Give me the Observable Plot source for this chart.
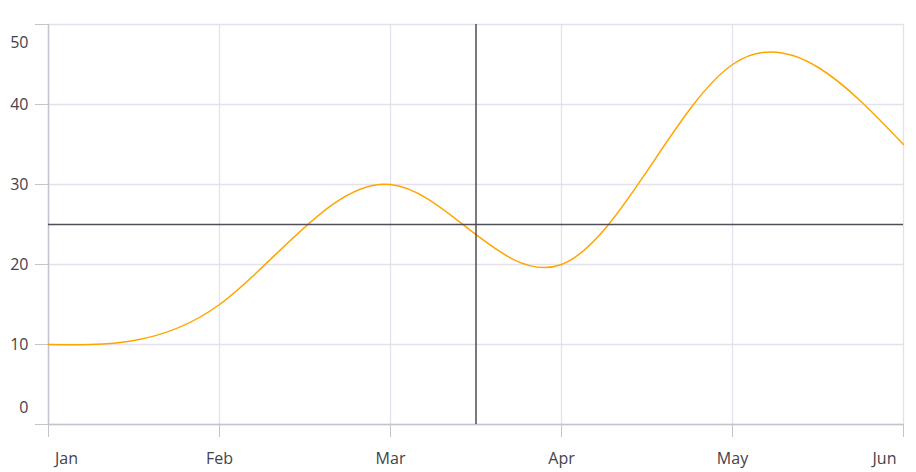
<!DOCTYPE html>
<html>
<head>
<meta charset="utf-8">
<script src="https://cdn.jsdelivr.net/npm/d3@7"></script>
<script src="https://cdn.jsdelivr.net/npm/@observablehq/plot@0.6"></script>
<style>
  html, body { margin: 0; padding: 0; background: #fff; }
  #chart { width: 916px; height: 472px; }
</style>
</head>
<body>
<div id="chart"></div>
<script>
const months = ["Jan", "Feb", "Mar", "Apr", "May", "Jun"];
const values = [10, 15, 30, 20, 45, 35];
const yTicks = [0, 10, 20, 30, 40, 50];
const crosshairX = [2.5];
const crosshairY = [25];

const data = months.map((m, i) => ({ i, month: m, value: values[i] }));
const monthIdx = months.map((m, i) => i);

const gridColor = "#e4e1ec";
const axisColor = "#c6c3ce";
const labelColor = "#44424a";
const font = "Open Sans, Noto Sans, sans-serif";
const fs = 16;

const midY = yTicks.filter((d, k) => k > 0 && k < yTicks.length - 1);
const midX = monthIdx.filter((d, k) => k > 0 && k < monthIdx.length - 1);

const chart = Plot.plot({
  width: 916,
  height: 472,
  marginLeft: 48,
  marginRight: 13,
  marginTop: 24,
  marginBottom: 48,
  style: { fontFamily: font, fontSize: fs + "px", background: "#fff" },
  x: { domain: [0, 5], axis: null },
  y: { domain: [0, 50], axis: null },
  marks: [
    Plot.ruleY(yTicks, { y: d => d, stroke: gridColor, strokeWidth: 1.3, strokeOpacity: 1 }),
    Plot.ruleX(monthIdx, { x: d => d, stroke: gridColor, strokeWidth: 1.3, strokeOpacity: 1 }),
    Plot.axisY(yTicks, { tickSize: 13, tickFormat: () => "", stroke: axisColor, strokeOpacity: 1, label: null }),
    Plot.axisX(monthIdx, { tickSize: 13, tickFormat: () => "", stroke: axisColor, strokeOpacity: 1, label: null }),
    Plot.ruleX([0], { stroke: axisColor, strokeWidth: 1.5, strokeOpacity: 1 }),
    Plot.ruleY([0], { stroke: axisColor, strokeWidth: 1.5, strokeOpacity: 1 }),
    // y labels
    Plot.text(midY, { x: 0, y: d => d, text: d => String(d), textAnchor: "end", dx: -20, fill: labelColor, fontSize: fs }),
    Plot.text([yTicks[0]], { x: 0, y: d => d, text: d => String(d), textAnchor: "end", dx: -20, dy: -17, fill: labelColor, fontSize: fs }),
    Plot.text([yTicks[yTicks.length - 1]], { x: 0, y: d => d, text: d => String(d), textAnchor: "end", dx: -20, dy: 18, fill: labelColor, fontSize: fs }),
    // x labels
    Plot.text(midX, { x: d => d, y: 0, text: d => months[d], dy: 34, fill: labelColor, fontSize: fs }),
    Plot.text([monthIdx[0]], { x: d => d, y: 0, text: d => months[d], dy: 34, dx: 18, fill: labelColor, fontSize: fs }),
    Plot.text([monthIdx[monthIdx.length - 1]], { x: d => d, y: 0, text: d => months[d], dy: 34, dx: -19, fill: labelColor, fontSize: fs }),
    // series
    Plot.line(data, { x: "i", y: "value", curve: "natural", stroke: "#ffa500", strokeWidth: 1.5 }),
    // crosshair
    Plot.ruleX(crosshairX, { x: d => d, stroke: "#4f4d55", strokeWidth: 1.5 }),
    Plot.ruleY(crosshairY, { y: d => d, stroke: "#4f4d55", strokeWidth: 1.5 })
  ]
});
document.getElementById("chart").appendChild(chart);
</script>
</body>
</html>
